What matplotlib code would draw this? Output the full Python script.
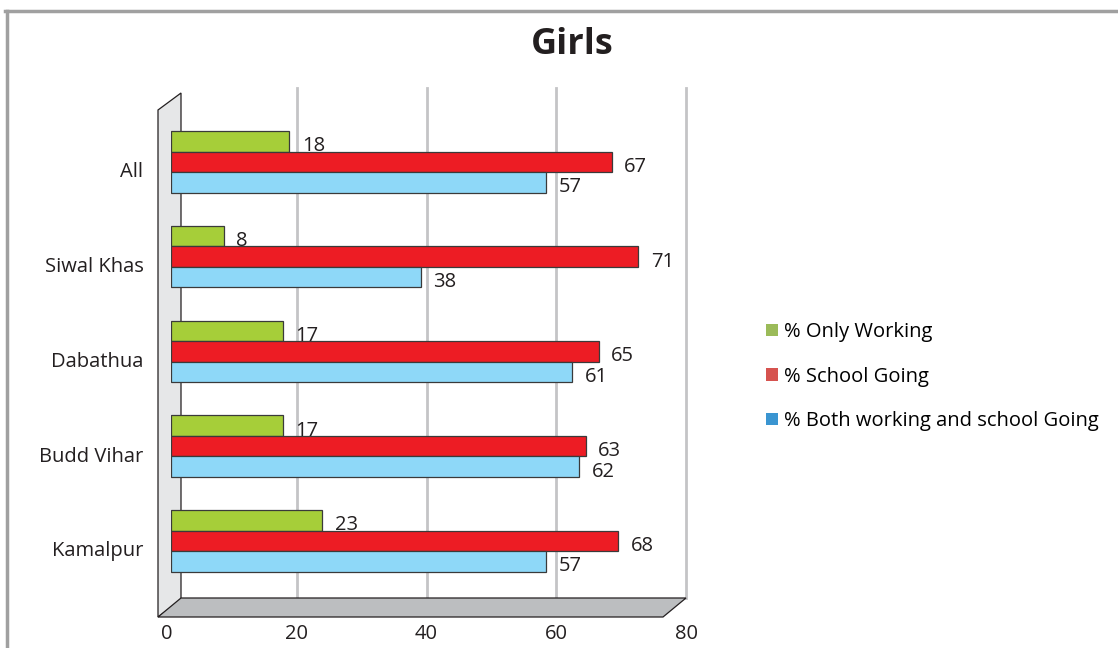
import matplotlib.pyplot as plt
from matplotlib.patches import Polygon, Patch
from matplotlib.lines import Line2D

plt.rcParams['font.family'] = ['Open Sans', 'DejaVu Sans']

# data (bottom to top)
places = ['Kamalpur', 'Budd Vihar', 'Dabathua', 'Siwal Khas', 'All']
only_working = [23, 17, 17, 8, 18]
school_going = [68, 63, 65, 71, 67]
both = [57, 62, 61, 38, 57]
series_names = ['% Only Working', '% School Going', '% Both working and school Going']
xticks = [0, 20, 40, 60, 80]

bar_cols = ['#A6CE39', '#ED1C24', '#8ED8F8']
leg_cols = ['#9BBB59', '#D6534F', '#3A95D1']
fs = 14.5

W, H = 1118, 648
fig = plt.figure(figsize=(W / 100, H / 100), dpi=100)


def px_rect(x0, x1, ytop, ybot):
    return [x0 / W, (H - ybot) / H, (x1 - x0) / W, (ybot - ytop) / H]


# frame of the original slide
fig.add_artist(Line2D([5 / W, 1], [1 - 11 / H, 1 - 11 / H], color='#A0A0A0', lw=2.5))
fig.add_artist(Line2D([7 / W, 7 / W], [0, 1 - 11 / H], color='#A0A0A0', lw=2.5))

ylo, yhi = -0.6016, 4.781
unit = 94.75  # px per category

# back axes: wall, floor, gridlines, ticks
ax = fig.add_axes(px_rect(167, 686, 88, 598))
ax.set_xlim(0, 80)
ax.set_ylim(ylo, yhi)
ax.patch.set_visible(False)
for s in ax.spines.values():
    s.set_visible(False)

sx = 80 / 519.0
wall = Polygon([(-9 * sx, yhi - 22 / unit), (14 * sx, yhi - 5 / unit),
                (14 * sx, ylo - 2 / unit), (-9 * sx, ylo - 19 / unit)],
               closed=True, facecolor='#E6E7E8', edgecolor='#231F20', lw=0.9,
               clip_on=False, zorder=1)
ax.add_patch(wall)
floor = Polygon([(-9 * sx, ylo - 19 / unit), (14 * sx, ylo), (80, ylo),
                 (80 - 23 * sx, ylo - 19 / unit)],
                closed=True, facecolor='#BCBEC0', edgecolor='#231F20', lw=0.9,
                clip_on=False, zorder=1)
ax.add_patch(floor)
for v in xticks[1:]:
    ax.plot([v, v], [ylo, yhi], color='#C4C4C6', lw=2, zorder=0.5, clip_on=False)

ax.set_xticks(xticks)
ax.set_xticklabels([str(v) for v in xticks])
ax.tick_params(axis='x', length=0, pad=19, labelsize=fs, colors='#231F20')
ax.set_yticks([k - 8 / unit for k in range(len(places))])
ax.set_yticklabels(places)
ax.tick_params(axis='y', length=0, pad=17, labelsize=fs, colors='#231F20')

# front axes: bars (slightly larger scale, perspective)
axf = fig.add_axes(px_rect(171, 171 + 80 * 6.58, 88, 598))
axf.set_xlim(0, 80)
axf.set_ylim(ylo, yhi)
axf.axis('off')

bh = 20.5 / unit
ypos = list(range(len(places)))
for i, vals in enumerate([only_working, school_going, both]):
    off = (1 - i) * bh
    yy = [k + off for k in ypos]
    axf.barh(yy, vals, height=bh, color=bar_cols[i], edgecolor='#3A3A3A', lw=0.9, zorder=3)
    for y, v in zip(yy, vals):
        axf.text(v + 1.9, y - 5 / unit, str(v), va='center', ha='left',
                 fontsize=fs, color='#231F20', zorder=4)

fig.text(572 / W, 1 - 45 / H, 'Girls', ha='center', va='center',
         fontsize=26, fontweight='bold', color='#231F20')

handles = [Patch(facecolor=c, edgecolor='none') for c in leg_cols]
fig.legend(handles, series_names, loc='upper left',
           bbox_to_anchor=(766 / W, 1 - 322 / H), frameon=False, fontsize=fs,
           handlelength=0.6, handleheight=0.6, handletextpad=0.3,
           labelspacing=1.22, borderpad=0, borderaxespad=0)

fig.savefig('out.png', dpi=100)
